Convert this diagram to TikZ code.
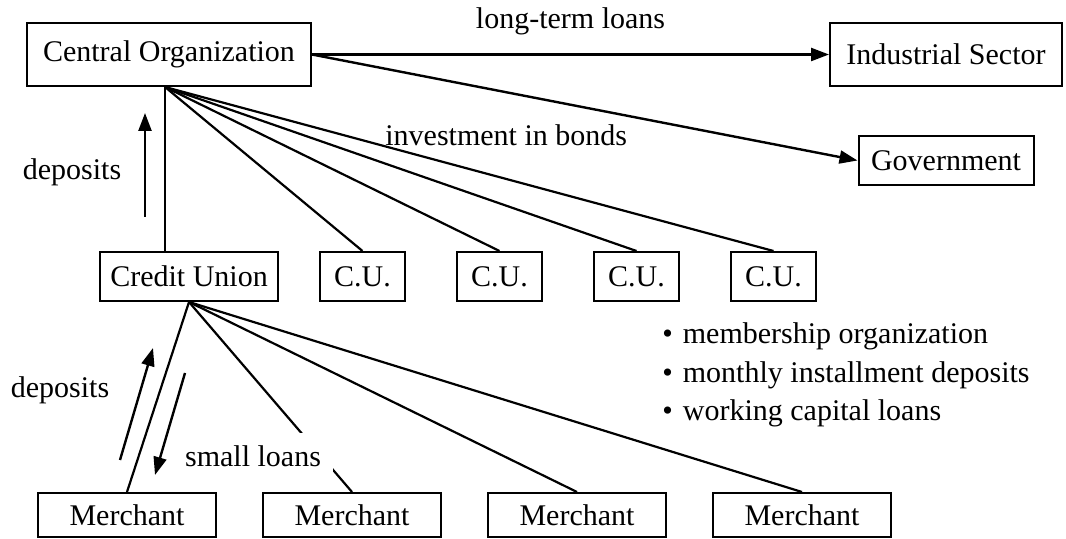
\documentclass[tikz,border=0pt]{standalone}
\usepackage{fontspec}
\setmainfont{Liberation Serif}
\usetikzlibrary{arrows.meta, positioning}
\tikzset{
  bigbox/.style={rectangle, draw, line width=1pt, minimum height=31.5pt, inner sep=2pt},
  unitbox/.style={rectangle, draw, line width=1pt, minimum height=24.5pt, inner sep=2pt},
  flow/.style={-{Triangle[length=9pt, width=6.5pt]}, line width=1.2pt},
  link/.style={line width=1.1pt},
}

\begin{document}
\begin{tikzpicture}[x=0.5pt, y=-0.5pt, every node/.style={font=\fontsize{15}{19.25}\selectfont}]
  \useasboundingbox (0,0) rectangle (1066,539);

  % ---- Top row: central body and borrowers ----
  \node (central) [bigbox, minimum width=142pt] at (169,54.5) {Central Organization};
  \node (industry) [bigbox, minimum width=116pt, right=258.5pt of central] {Industrial Sector};
  \node (govt) [unitbox, minimum width=87.5pt, below=24pt of industry] {Government};

  % ---- Middle row: credit unions ----
  \node (cu) [unitbox, minimum width=89pt, below=82pt of central, xshift=10pt] {Credit Union};
  \node (cua) [unitbox, minimum width=42.5pt, right=20pt of cu] {C.U.};
  \node (cub) [unitbox, minimum width=42.5pt, right=25pt of cua] {C.U.};
  \node (cuc) [unitbox, minimum width=42.5pt, right=25pt of cub] {C.U.};
  \node (cud) [unitbox, minimum width=42.5pt, right=25pt of cuc] {C.U.};

  % ---- Bottom row: merchants ----
  \node (m1) [unitbox, minimum width=89pt, minimum height=22pt, below=95pt of cu, xshift=-31pt] {Merchant};
  \node (m2) [unitbox, minimum width=89pt, minimum height=22pt, right=22.5pt of m1] {Merchant};
  \node (m3) [unitbox, minimum width=89pt, minimum height=22pt, right=22.5pt of m2] {Merchant};
  \node (m4) [unitbox, minimum width=89pt, minimum height=22pt, right=22.5pt of m3] {Merchant};

  % ---- Notes ----
  \node (notes) [anchor=west, align=left, inner sep=0pt] at (662,375)
    {\textbullet\hspace{5pt}membership organization\\
     \textbullet\hspace{5pt}monthly installment deposits\\
     \textbullet\hspace{5pt}working capital loans};

  % ---- Lines ----
  \coordinate (hub) at ([xshift=-2pt]central.south);
  \draw [link] (hub) -- (hub |- cu.north);
  \foreach \n in {cua,cub,cuc,cud}
    \draw [link] (hub) -- (\n.north);
  \foreach \n in {m1,m2,m3,m4}
    \draw [link] (cu.south) -- (\n.north);

  % ---- Arrows ----
  \draw [flow] (central.east) -- node[above=6pt] (ltl) {long-term loans} (industry.west);
  \draw [flow] (central.east) -- node[pos=0.356, below=12.5pt] (inv) {investment in bonds} (govt.west);

  \coordinate (upA) at (145,217);
  \coordinate (upB) at (145,113);
  \draw [flow] (upA) -- (upB);
  \node (dep1) at (72,172) {deposits};

  \coordinate (inA) at (120,460);
  \coordinate (inB) at (153,348);
  \draw [flow] (inA) -- (inB);
  \node (dep2) at (60,390) {deposits};

  \coordinate (outA) at (185,373);
  \coordinate (outB) at (155,475);
  \draw [flow] (outA) -- (outB);
  \node (loans) [fill=white, inner sep=6pt] at (253,456) {small loans};

\end{tikzpicture}
\end{document}
